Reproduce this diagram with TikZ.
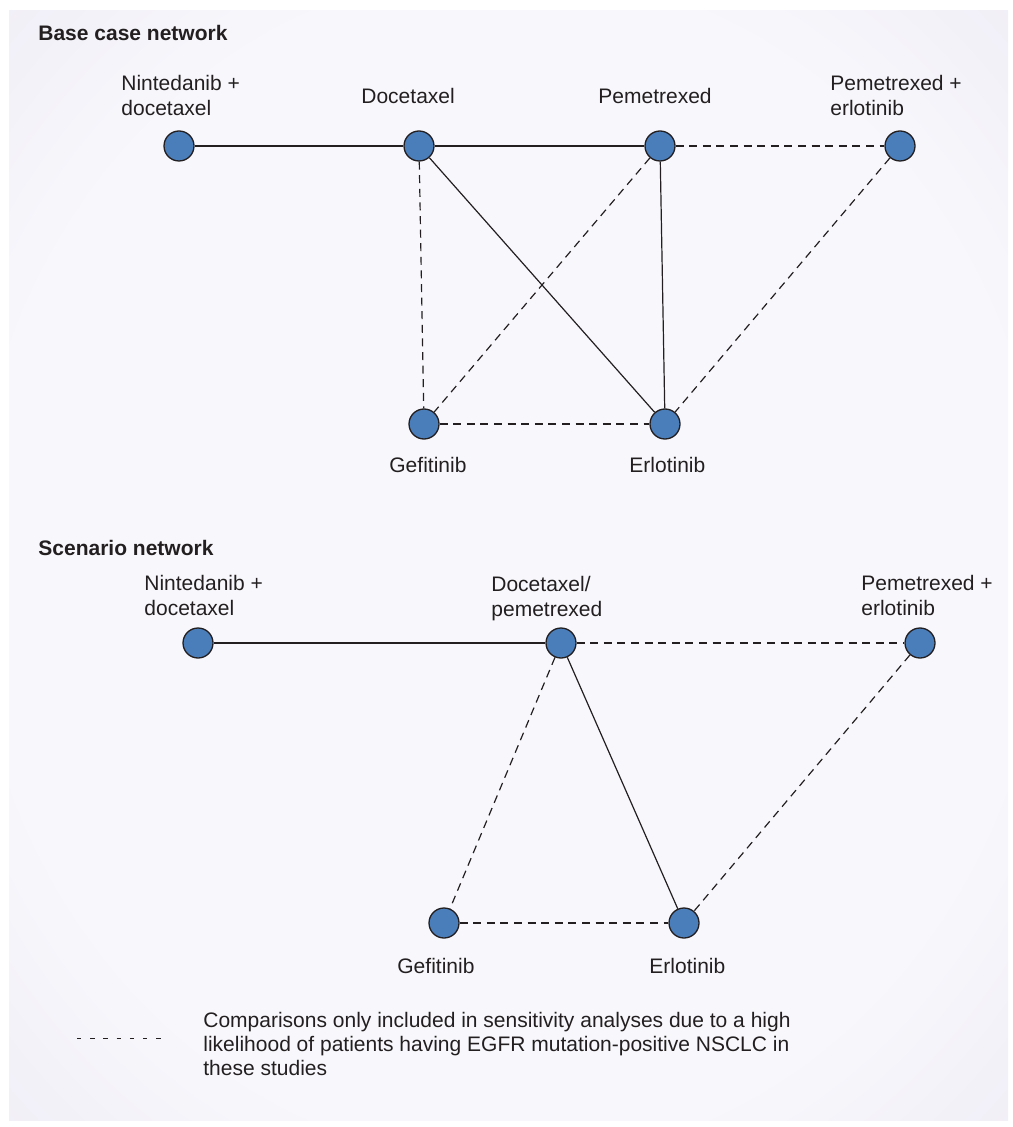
\documentclass[tikz,border=0pt]{standalone}
\usepackage{fontspec}
\setmainfont{Liberation Sans}
\usepackage{tikz}
\usetikzlibrary{positioning}
\usepackage{xcolor}
\definecolor{drugblue}{HTML}{4A7EBB}
\definecolor{inkdark}{HTML}{231F20}
\definecolor{bgin}{HTML}{F8F8FC}
\definecolor{bgmid}{HTML}{E7E1EF}
\definecolor{bgout}{HTML}{D9D0E6}
\pgfdeclareradialshading{bgglow}{\pgfpoint{0bp}{0bp}}{%
	color(0bp)=(bgin); color(26bp)=(bgin); color(50bp)=(bgmid); color(71bp)=(bgout)}
\tikzset{%
	every drug/.style={
		circle,
		draw=inkdark,
		line width=0.65pt,
		fill=drugblue,
		minimum size=15pt,
		inner sep=0pt
	},
	drug label/.style={
		anchor=north west,
		inner sep=0pt,
		align=left,
		text=inkdark,
		font=\fontsize{10.5}{12.5}\selectfont
	},
	net title/.style={
		anchor=north west,
		inner sep=0pt,
		text=inkdark,
		font=\fontsize{10.5}{12.5}\selectfont\bfseries
	},
}

\begin{document}
\begin{tikzpicture}[
				x=0.5pt, y=-0.5pt,
				cmp/.style={draw=inkdark, line width=0.6pt},
				sens/.style={draw=inkdark, line width=0.6pt, dash pattern=on 4pt off 2.8pt}
				]
				\useasboundingbox (0,0) rectangle (1012,1127);
				\shade[shading=bgglow] (9,11) rectangle (1008,1120);

				% base case network
				\node[net title] (basetitle) at (38,25) {Base case network};
				\node[every drug] (nd1) at (179,146) {};
				\node[every drug] (doc1) at (419,146) {};
				\node[every drug] (pem1) at (660,146) {};
				\node[every drug] (pe1) at (900,146) {};
				\node[every drug] (gef1) at (424,424) {};
				\node[every drug] (erl1) at (665,424) {};
				\node[drug label] (nd1lbl) at (121,75) {Nintedanib +\\docetaxel};
				\node[drug label] (doc1lbl) at (361,88) {Docetaxel};
				\node[drug label] (pem1lbl) at (598,88) {Pemetrexed};
				\node[drug label] (pe1lbl) at (830,75) {Pemetrexed +\\erlotinib};
				\node[drug label] (gef1lbl) at (389,457) {Gefitinib};
				\node[drug label] (erl1lbl) at (629,457) {Erlotinib};
				\draw[cmp] (nd1) -- (doc1);
				\draw[cmp] (doc1) -- (pem1);
				\draw[cmp] (doc1) -- (erl1);
				\draw[cmp] (pem1) -- (erl1);
				\draw[sens] (pem1) -- (pe1);
				\draw[sens] (doc1) -- (gef1);
				\draw[sens] (pem1) -- (gef1);
				\draw[sens] (pe1) -- (erl1);
				\draw[sens] (gef1) -- (erl1);

				% scenario network
				\node[net title] (scentitle) at (38,540) {Scenario network};
				\node[every drug] (nd2) at (198,643) {};
				\node[every drug] (dp2) at (561,643) {};
				\node[every drug] (pe2) at (920,643) {};
				\node[every drug] (gef2) at (444,923) {};
				\node[every drug] (erl2) at (684,923) {};
				\node[drug label] (nd2lbl) at (144,575) {Nintedanib +\\docetaxel};
				\node[drug label] (dp2lbl) at (491,576) {Docetaxel/\\pemetrexed};
				\node[drug label] (pe2lbl) at (861,575) {Pemetrexed +\\erlotinib};
				\node[drug label] (gef2lbl) at (397,958) {Gefitinib};
				\node[drug label] (erl2lbl) at (649,958) {Erlotinib};
				\draw[cmp, line width=1.1pt] (nd2) -- (dp2);
				\draw[cmp] (dp2) -- (erl2);
				\draw[sens] (dp2) -- (pe2);
				\draw[sens] (dp2) -- (gef2);
				\draw[sens] (pe2) -- (erl2);
				\draw[sens] (gef2) -- (erl2);

				% legend
				\coordinate (legstart) at (77,1038);
				\coordinate (legend) at (165,1038);
				\draw[draw=inkdark, line width=0.5pt, dash pattern=on 2.2pt off 4.4pt] (legstart) -- (legend);
				\node[drug label, font=\fontsize{10.5}{12}\selectfont] (legtext) at (203,1012)
					{Comparisons only included in sensitivity analyses due to a high\\likelihood of patients having EGFR mutation-positive NSCLC in\\these studies};
			\end{tikzpicture}
\end{document}
